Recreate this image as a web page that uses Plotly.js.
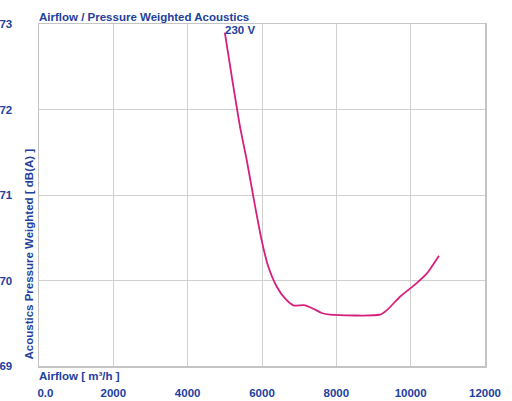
<!DOCTYPE html>
<html><head><meta charset="utf-8">
<script src="https://cdn.plot.ly/plotly-3.0.1.min.js"></script>
<style>html,body{margin:0;padding:0;background:#fff}#c{width:512px;height:401px}</style>
</head><body><div id="c"></div>
<script>
const airflow = [5000, 5229, 5408, 5588, 5767, 5991, 6171, 6395, 6619, 6843, 7157, 7381, 7605, 7830, 9175, 9354, 9713, 10162, 10431, 10762];
const acoustics = [72.90, 72.27, 71.80, 71.41, 70.98, 70.47, 70.16, 69.93, 69.79, 69.71, 69.71, 69.67, 69.62, 69.60, 69.60, 69.65, 69.81, 69.97, 70.08, 70.29];
const xTickVals = [0, 2000, 4000, 6000, 8000, 10000, 12000];
const xTickText = ["\u00a0\u00a0\u00a0\u00a00.0", "2000", "4000", "6000", "8000", "10000", "12000"];
const yTickVals = [69, 70, 71, 72, 73];
const seriesName = "230 V";
const blue = "#22409e";
const font = {family: "Liberation Sans, Arial, sans-serif", size: 11.5, color: blue, weight: "bold"};
Plotly.newPlot("c", [{
  x: airflow, y: acoustics, type: "scatter", mode: "lines",
  line: {color: "#d61f7c", width: 1.8, shape: "spline", smoothing: 0.6},
  hoverinfo: "skip", showlegend: false
}], {
  width: 512, height: 401,
  margin: {l: 39, r: 27, t: 24, b: 35},
  paper_bgcolor: "#fff", plot_bgcolor: "#fff",
  font: font,
  showlegend: false,
  xaxis: {range: [0, 12000], tickvals: xTickVals, ticktext: xTickText, showgrid: true, gridcolor: "#d0d0d0", gridwidth: 1,
    zeroline: false, showline: true, mirror: true, linecolor: "#c4c4c4", linewidth: 1.5, ticks: "", ticklabelstandoff: 16, tickfont: font},
  yaxis: {range: [69, 73], tickvals: yTickVals, showgrid: true, gridcolor: "#d0d0d0", gridwidth: 1,
    zeroline: false, showline: true, mirror: true, linecolor: "#c4c4c4", linewidth: 1.5, ticks: "", ticklabelstandoff: 23, tickfont: font},
  annotations: [
    {text: "Airflow / Pressure Weighted Acoustics", xref: "paper", yref: "paper", x: 0, y: 1, xanchor: "left", yanchor: "bottom", showarrow: false, font: font, xshift: -2, yshift: -1},
    {text: "Airflow [ m³/h ]", xref: "paper", yref: "paper", x: 0, y: 0, xanchor: "left", yanchor: "top", showarrow: false, font: font, xshift: -2, yshift: -2},
    {text: "Acoustics Pressure Weighted [ dB(A) ]", xref: "paper", yref: "paper", x: 0, y: 0, xanchor: "right", yanchor: "bottom", textangle: -90, showarrow: false, font: font, xshift: -3, yshift: 4},
    {text: seriesName, xref: "x", yref: "y", x: airflow[0], y: acoustics[0], xanchor: "left", yanchor: "bottom", showarrow: false, font: font, xshift: -2, yshift: -5}
  ]
}, {staticPlot: true});
</script></body></html>
